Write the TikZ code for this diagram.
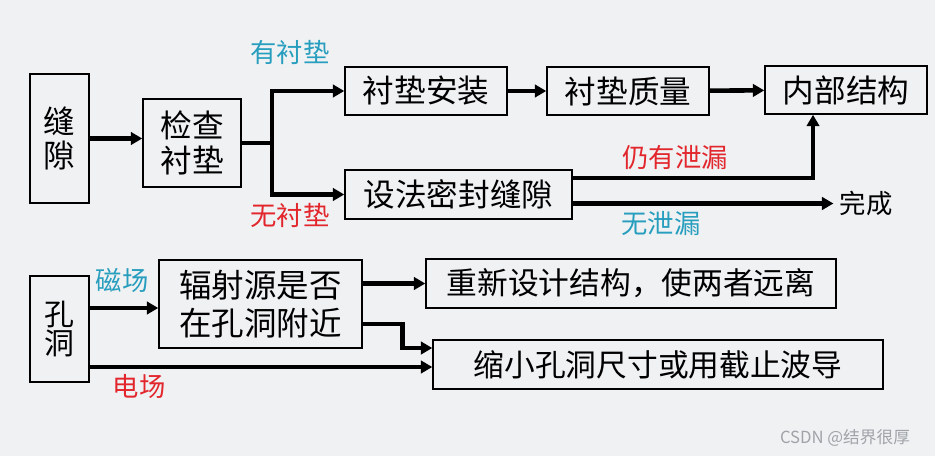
\documentclass[tikz,border=0pt]{standalone}
\usepackage{fontspec}
\setmainfont{Noto Sans CJK SC}
\usetikzlibrary{arrows.meta,calc,positioning}
\definecolor{slidebg}{RGB}{239,241,243}
\definecolor{labelcyan}{RGB}{40,158,190}
\definecolor{labelred}{RGB}{226,38,44}
\definecolor{markgray}{RGB}{160,163,168}

\begin{document}
\begin{tikzpicture}[x=0.02cm,y=-0.02cm,>={Triangle[length=2.3mm,width=2.5mm]},
 box/.style={draw,line width=.85pt,inner sep=0pt,align=center,font=\fontsize{18}{20}\selectfont},
 flow/.style={->,line width=2.6pt},
 tag/.style={font=\fontsize{15}{18}\selectfont}]
\useasboundingbox (0,0) rectangle (935,456);
\fill[slidebg] (0,0) rectangle (935,456);
\node[box,minimum width=1.18cm,minimum height=2.58cm,font=\fontsize{18}{19}\selectfont] (gap) at (59.5,138.5) {缝\\隙};
\node[box,minimum width=1.96cm,minimum height=1.76cm] (check) at (192,143) {检查\\衬垫};
\node[box,minimum width=3.24cm,minimum height=.96cm] (pad) at (426,91) {衬垫安装};
\node[box,minimum width=3.24cm,minimum height=.96cm] (quality) at (628,91) {衬垫质量};
\node[box,minimum width=3.24cm,minimum height=.96cm] (inner) at (846,90) {内部结构};
\node[box,minimum width=4.54cm,minimum height=.98cm] (seal) at (458.5,194.5) {设法密封缝隙};
\node[tag] (done) at (866,203.5) {完成};
\node[tag,text=labelcyan] (withpad) at (290,52) {有衬垫};
\node[tag,text=labelred] (nopad) at (290,215) {无衬垫};
\node[tag,text=labelred] (leak) at (675,158) {仍有泄漏};
\node[tag,text=labelcyan] (noleak) at (661,223) {无泄漏};
\coordinate (split) at (272,143);
\draw[flow] (gap.east) -- (gap.east -| check.west);
\draw[flow] (check.east) -- (split) |- (pad.west);
\draw[flow] (split) |- (seal.west);
\draw[flow] (pad) -- (quality);
\draw[flow] (quality) -- (inner);
\draw[flow] ([yshift=.33cm]seal.east) -| ([xshift=-.66cm]inner.south);
\draw[flow] ([yshift=-.18cm]seal.east) -- (done.west);
\node[box,minimum width=1.18cm,minimum height=2.12cm,font=\fontsize{17}{16}\selectfont] (hole) at (59.5,329) {孔\\洞};
\node[box,minimum width=4.06cm,minimum height=1.76cm,font=\fontsize{18.5}{21.5}\selectfont] (source) at (260.5,304) {辐射源是否\\在孔洞附近};
\node[box,minimum width=8.2cm,minimum height=.98cm,font=\fontsize{17.5}{20}\selectfont] (redesign) at (631,283.5) {重新设计结构，使两者远离};
\node[box,minimum width=9cm,minimum height=.98cm,font=\fontsize{17.5}{20}\selectfont] (shrink) at (658,364.5) {缩小孔洞尺寸或用截止波导};
\node[tag,text=labelcyan] (magnetic) at (122,280) {磁场};
\node[tag,text=labelred] (electric) at (139,386) {电场};
\coordinate (magnet) at ([yshift=.42cm]hole.east);
\coordinate (efield) at ([yshift=-.76cm]hole.east);
\draw[flow] (magnet) -- (magnet -| source.west);
\draw[flow] (efield) -- (efield -| shrink.west);
\draw[flow] (source.east |- redesign.west) -- (redesign.west);
\draw[flow] ([yshift=-.4cm]source.east) -- ++(40,0) |- ([yshift=.33cm]shrink.west);
\node[font=\fontsize{9.5}{11}\selectfont,text=markgray] (mark) at (845,438) {CSDN @结界很厚};
\end{tikzpicture}
\end{document}
